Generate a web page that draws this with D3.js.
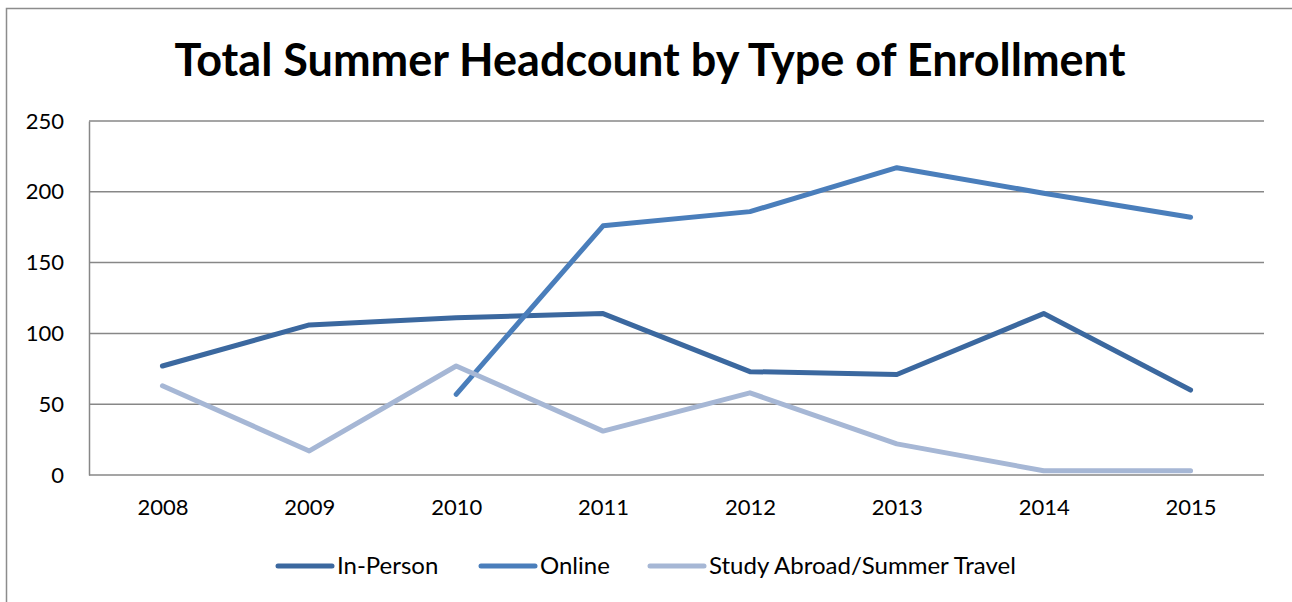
<!DOCTYPE html>
<html lang="en">
<head>
<meta charset="utf-8">
<title>Total Summer Headcount by Type of Enrollment</title>
<script src="https://d3js.org/d3.v7.min.js"></script>
<style>
body { margin: 0; background: #fff; }
text { font-family: Lato, "Open Sans", sans-serif; fill: #000; }
</style>
</head>
<body>
<div id="chart"></div>
<script>
// data
var years = ["2008", "2009", "2010", "2011", "2012", "2013", "2014", "2015"];
var inPerson = [77, 106, 111, 114, 73, 71, 114, 60];
var online = [null, null, 57, 176, 186, 217, 199, 182];
var studyAbroad = [63, 17, 77, 31, 58, 22, 3, 3];
var yTicks = [0, 50, 100, 150, 200, 250];
var seriesNames = ["In-Person", "Online", "Study Abroad/Summer Travel"];
var seriesColors = ["#3b689f", "#4a7ebb", "#a6b7d5"];

var w = 1292, h = 602;
var plotLeft = 89, plotRight = 1264, plotTop = 121, plotBottom = 475;

var svg = d3.select("#chart").append("svg")
  .attr("width", w)
  .attr("height", h);

// outer chart border
svg.append("rect")
  .attr("x", 6.5).attr("y", 8.5)
  .attr("width", 1300).attr("height", 620)
  .attr("fill", "none")
  .attr("stroke", "#8c8c8c")
  .attr("stroke-width", 1.5);

svg.append("text")
  .attr("x", 650).attr("y", 76)
  .attr("text-anchor", "middle")
  .attr("font-size", 45)
  .attr("font-weight", "bold")
  .text("Total Summer Headcount by Type of Enrollment");

var xScale = d3.scalePoint()
  .domain(years)
  .range([plotLeft, plotRight])
  .padding(0.5);

var yScale = d3.scaleLinear()
  .domain([0, 250])
  .range([plotBottom, plotTop]);

// gridlines
svg.append("g")
  .selectAll("line")
  .data(yTicks)
  .enter()
  .append("line")
  .attr("x1", plotLeft).attr("x2", plotRight)
  .attr("y1", d => yScale(d)).attr("y2", d => yScale(d))
  .attr("stroke", "#878787")
  .attr("stroke-width", 1.5);

// y axis
var yAxis = d3.axisLeft(yScale).tickValues(yTicks).tickSize(0).tickPadding(25);
var gy = svg.append("g")
  .attr("transform", "translate(" + plotLeft + ",0)")
  .call(yAxis);
gy.select(".domain").attr("stroke", "#878787").attr("stroke-width", 1.5);
gy.selectAll("text").attr("font-size", 22).attr("font-family", "Lato, sans-serif");

// x axis
var xAxis = d3.axisBottom(xScale).tickSize(0).tickPadding(24);
var gx = svg.append("g")
  .attr("transform", "translate(0," + plotBottom + ")")
  .call(xAxis);
gx.select(".domain").remove();
gx.selectAll("text").attr("font-size", 22).attr("font-family", "Lato, sans-serif");

// lines
var line = d3.line()
  .defined(d => d.v != null)
  .x(d => xScale(d.year))
  .y(d => yScale(d.v));

var allSeries = [inPerson, online, studyAbroad];
allSeries.forEach(function (vals, i) {
  var pts = years.map((y, j) => ({year: y, v: vals[j]}));
  svg.append("path")
    .datum(pts)
    .attr("d", line)
    .attr("fill", "none")
    .attr("stroke", seriesColors[i])
    .attr("stroke-width", 5)
    .attr("stroke-linecap", "round")
    .attr("stroke-linejoin", "round");
});

// legend
var legendX = [278, 481, 650];
var legend = svg.append("g")
  .selectAll("g")
  .data(seriesNames)
  .enter()
  .append("g")
  .attr("transform", (d, i) => "translate(" + legendX[i] + ",566)");
legend.append("line")
  .attr("x1", 0).attr("x2", 54)
  .attr("stroke", (d, i) => seriesColors[i])
  .attr("stroke-width", 5)
  .attr("stroke-linecap", "round");
legend.append("text")
  .attr("x", 59)
  .attr("dy", "0.35em")
  .attr("font-size", 24)
  .text(d => d);
</script>
</body>
</html>
